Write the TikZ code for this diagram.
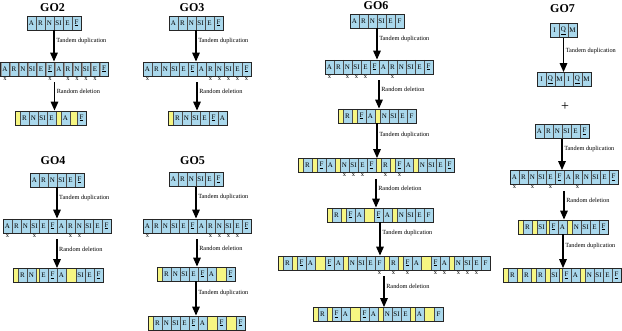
\documentclass[tikz,border=0pt]{standalone}
\usepackage{fontspec}
\setmainfont{Liberation Serif}
\usetikzlibrary{positioning,fit,arrows.meta}

\definecolor{cellblue}{RGB}{170,216,236}
\definecolor{gapyellow}{RGB}{246,246,130}

\newcommand{\Fu}{\underline{F}}
\newcommand{\Qu}{\underline{Q}}

\newcommand{\generow}[3]{%
	\coordinate (#1-0) at (#2);
	\foreach \kind/\lab [count=\idx, remember=\idx as \prev (initially 0)] in {#3} {
		\node[cell\kind, right=0pt of #1-\prev] (#1-\idx) {\lab};
		\xdef\lastcell{\idx}
	}
	\node[rowframe, fit=(#1-1)(#1-\lastcell)] (#1) {};
}
\newcommand{\cutmarks}[2]{%
	\foreach \cut in {#2} {
		\node[cutmark, below=1pt of #1-\cut] (#1-x\cut) {x};
	}
}
\newcommand{\tandem}[3][0.33]{%
	\draw[growarrow] (#2.south) -- node[steplabel, pos=#1] (#2-td) {Tandem duplication} (#2.south |- #3.north);
}
\newcommand{\deletion}[3][0.33]{%
	\draw[growarrow] ([yshift=-6pt]#2.south) -- node[steplabel, pos=#1] (#2-rd) {Random deletion} (#2.south |- #3.north);
}

\begin{document}
\begin{tikzpicture}[x=1pt, y=-1pt,
	gap/.style={draw=black!70, line width=0.4pt, fill=gapyellow, minimum height=14pt, inner sep=0pt, outer sep=0pt},
	cellb/.style={gap, fill=cellblue, minimum width=9pt, font=\fontsize{7}{7}\selectfont,
		path picture={\draw[line width=1.2pt, black!40] ([xshift=0.6pt]path picture bounding box.north west) -- ([xshift=0.6pt]path picture bounding box.south west);}},
	celly/.style={gap, minimum width=5pt},
	cellt/.style={gap, minimum width=3pt},
	cellm/.style={gap, minimum width=7pt},
	cellw/.style={gap, minimum width=10pt},
	rowframe/.style={draw=black!85, line width=0.8pt, inner sep=0pt},
	cutmark/.style={font=\fontsize{6.5}{6.5}\selectfont, inner sep=0pt},
	growarrow/.style={line width=1.5pt, -{Triangle[length=9pt, width=7.5pt]}},
	steplabel/.style={anchor=west, xshift=1.5pt, font=\fontsize{6.3}{7}\selectfont, inner sep=0pt},
	title/.style={font=\bfseries\fontsize{12}{14}\selectfont}]
	\useasboundingbox (0,0) rectangle (622,331);

	% GO2
	\node[title] (go2t) at (52.5,8) {GO2};
	\generow{go2a}{27,23}{b/A, b/R, b/N, b/SI, b/E, b/\Fu}
	\generow{go2b}{0.5,69}{b/A, b/R, b/N, b/SI, b/E, b/\Fu, b/A, b/R, b/N, b/SI, b/E, b/\Fu}
	\generow{go2c}{15,118}{y/{}, b/R, b/N, b/SI, b/E, y/{}, b/A, m/{}, b/\Fu}
	\cutmarks{go2b}{1,6,8,9,10,11}
	\tandem{go2a}{go2b}
	\deletion{go2b}{go2c}

	% GO3
	\node[title] (go3t) at (192,8) {GO3};
	\generow{go3a}{169,23}{b/A, b/R, b/N, b/SI, b/E, b/\Fu}
	\generow{go3b}{143,69}{b/A, b/R, b/N, b/SI, b/E, b/\Fu, b/A, b/R, b/N, b/SI, b/E, b/\Fu}
	\generow{go3c}{168,118}{y/{}, b/R, b/N, b/SI, b/E, b/\Fu, b/A}
	\cutmarks{go3b}{1,8,9,10,11,12}
	\tandem{go3a}{go3b}
	\deletion{go3b}{go3c}

	% GO4
	\node[title] (go4t) at (53,161) {GO4};
	\generow{go4a}{30,180}{b/A, b/R, b/N, b/SI, b/E, b/\Fu}
	\generow{go4b}{3,226}{b/A, b/R, b/N, b/SI, b/E, b/\Fu, b/A, b/R, b/N, b/SI, b/E, b/\Fu}
	\generow{go4c}{13,275.5}{y/{}, b/R, b/N, t/{}, b/E, b/\Fu, b/A, w/{}, b/SI, b/E, b/\Fu}
	\cutmarks{go4b}{1,4,8,9}
	\tandem{go4a}{go4b}
	\deletion{go4b}{go4c}

	% GO5
	\node[title] (go5t) at (192.5,161) {GO5};
	\generow{go5a}{169,179.5}{b/A, b/R, b/N, b/SI, b/E, b/\Fu}
	\generow{go5b}{143,226}{b/A, b/R, b/N, b/SI, b/E, b/\Fu, b/A, b/R, b/N, b/SI, b/E, b/\Fu}
	\generow{go5c}{157,274}{y/{}, b/R, b/N, b/SI, b/E, b/\Fu, b/A, w/{}, b/\Fu}
	\generow{go5d}{148,323}{y/{}, b/R, b/N, b/SI, b/E, b/\Fu, b/A, w/{}, b/\Fu, w/{}, b/\Fu}
	\cutmarks{go5b}{1,8,9,10,11}
	\tandem{go5a}{go5b}
	\deletion{go5b}{go5c}
	\tandem{go5c}{go5d}

	% GO6
	\node[title] (go6t) at (376,6) {GO6};
	\generow{go6a}{350,21}{b/A, b/R, b/N, b/SI, b/E, b/F}
	\generow{go6b}{325,67}{b/A, b/R, b/N, b/SI, b/E, b/\Fu, b/A, b/R, b/N, b/SI, b/E, b/\Fu}
	\generow{go6c}{338,116}{y/{}, b/R, y/{}, b/\Fu, b/A, y/{}, b/N, b/SI, b/E, b/F}
	\generow{go6d}{298,165.5}{y/{}, b/R, y/{}, b/\Fu, b/A, y/{}, b/N, b/SI, b/E, b/\Fu, y/{}, b/R, y/{}, b/\Fu, b/A, y/{}, b/N, b/SI, b/E, b/\Fu}
	\generow{go6e}{327,215}{y/{}, b/R, y/{}, b/\Fu, b/A, w/{}, b/\Fu, b/A, y/{}, b/N, b/SI, b/E, b/F}
	\generow{go6f}{278,263}{y/{}, b/R, y/{}, b/\Fu, b/A, w/{}, b/\Fu, b/A, y/{}, b/N, b/SI, b/E, b/F, y/{}, b/R, y/{}, b/\Fu, b/A, w/{}, b/\Fu, b/A, y/{}, b/N, b/SI, b/E, b/F}
	\generow{go6g}{313,314.5}{y/{}, b/R, y/{}, b/\Fu, b/A, w/{}, b/\Fu, b/A, y/{}, b/N, b/SI, b/E, y/{}, b/A, w/{}, b/F}
	\cutmarks{go6b}{1,3,4,5,8}
	\cutmarks{go6d}{7,8,9,12,14}
	\cutmarks{go6f}{13,15,17,20,21,23,24,25}
	\tandem{go6a}{go6b}
	\deletion{go6b}{go6c}
	\tandem{go6c}{go6d}
	\deletion{go6d}{go6e}
	\tandem{go6e}{go6f}
	\deletion{go6f}{go6g}

	% GO7
	\node[title] (go7t) at (562.5,9) {GO7};
	\generow{go7a}{550,30.5}{b/I, b/\Qu, b/M}
	\generow{go7b}{537,79.5}{b/I, b/\Qu, b/M, b/I, b/\Qu, b/M}
	\node[font=\fontsize{14}{14}\selectfont] (go7plus) at (565,107) {+};
	\generow{go7c}{535,131.5}{b/A, b/R, b/N, b/SI, b/E, b/\Fu}
	\generow{go7d}{510,177.5}{b/A, b/R, b/N, b/SI, b/E, b/\Fu, b/A, b/R, b/N, b/SI, b/E, b/\Fu}
	\generow{go7e}{518,227}{y/{}, b/R, y/{}, b/SI, t/{}, b/\Fu, b/A, y/{}, b/N, b/SI, b/E, b/\Fu}
	\generow{go7f}{503,275.5}{y/{}, b/R, y/{}, b/R, y/{}, b/R, y/{}, b/SI, t/{}, b/\Fu, b/A, y/{}, b/N, b/SI, b/E, b/\Fu}
	\cutmarks{go7d}{1,3,5,8}
	\tandem[0.38]{go7a}{go7b}
	\tandem{go7c}{go7d}
	\deletion{go7d}{go7e}
	\tandem{go7e}{go7f}
\end{tikzpicture}
\end{document}
